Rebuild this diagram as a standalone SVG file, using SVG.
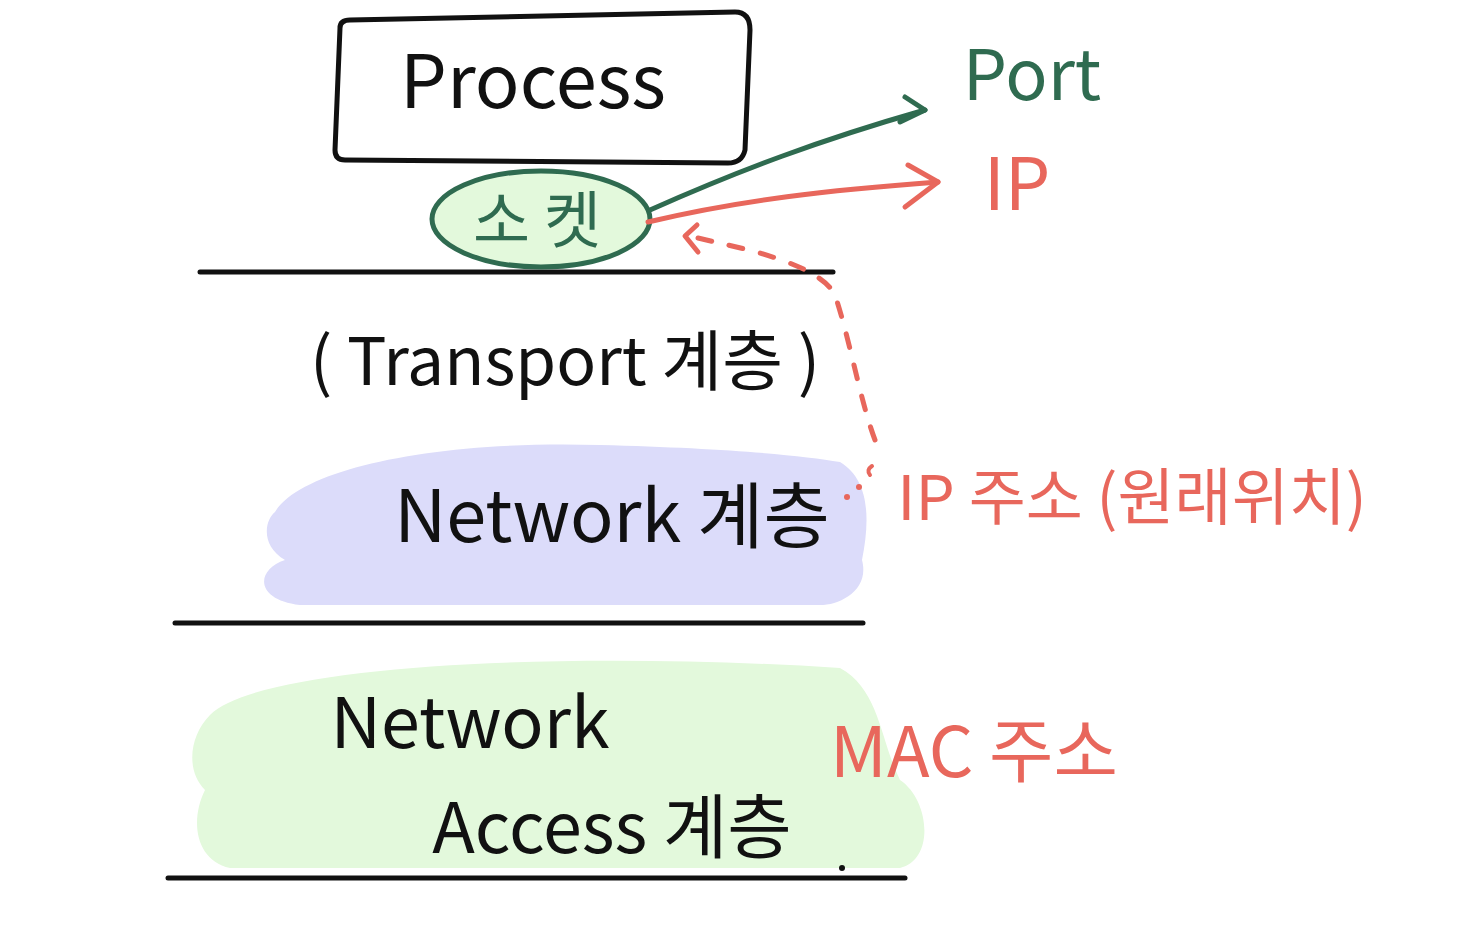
<svg xmlns="http://www.w3.org/2000/svg" width="1477" height="933" viewBox="0 0 1477 933">
<style>
.t{font-family:"Noto Sans CJK KR","Liberation Sans",sans-serif;}
.k{fill:#111;}
.g{fill:#2f6b50;}
.r{fill:#e8675c;}
.ln{stroke:#111;stroke-width:5;stroke-linecap:round;fill:none;}
.ah{fill:none;stroke-width:5;stroke-linecap:round;stroke-linejoin:round;}
</style>
<rect width="1477" height="933" fill="#fff"/>
<g id="layers">
<path d="M275,512 C300,470 430,440 600,445 C720,448 800,455 840,462 C870,480 870,520 862,560 C870,590 840,605 820,605 L300,605 C255,600 255,570 285,560 C260,545 265,520 275,512 Z" fill="#dcdcfa"/>
<path d="M210,715 C260,665 560,650 840,668 C880,690 880,740 900,780 C930,800 935,860 900,868 L230,868 C195,860 190,820 205,790 C185,770 190,735 210,715 Z" fill="#e3f9dc"/>
<line class="ln" x1="200" y1="272" x2="833" y2="272"/>
<line class="ln" x1="175" y1="623" x2="863" y2="623"/>
<line class="ln" x1="168" y1="878" x2="905" y2="878"/>
</g>
<g id="process">
<path d="M340,28 Q340,20 350,20 L735,12 Q750,12 750,30 L745,150 Q742,163 728,163 L345,160 Q335,160 335,150 Z" fill="none" stroke="#111" stroke-width="5" stroke-linejoin="round"/>
<text class="t k" x="533" y="108" font-size="74" text-anchor="middle">Process</text>
</g>
<g id="socket">
<ellipse cx="541" cy="219" rx="109" ry="48" fill="#e3f9dc" stroke="#2f6b50" stroke-width="5"/>
<text class="t g" x="537" y="243" font-size="62" text-anchor="middle">소  켓</text>
</g>
<g id="transport">
<text class="t k" x="565" y="385" font-size="66" text-anchor="middle">( Transport 계층 )</text>
</g>
<g id="network">
<text class="t k" x="612" y="542" font-size="72" text-anchor="middle">Network  계층</text>
</g>
<g id="netaccess">
<text class="t k" x="470" y="748" font-size="70" text-anchor="middle">Network</text>
<text class="t k" x="612" y="853" font-size="70" text-anchor="middle">Access 계층</text>
<circle cx="842" cy="868" r="3" fill="#111"/>
</g>
<g id="port"><text class="t g" x="1032" y="100" font-size="70" text-anchor="middle">Port</text></g>
<g id="ip"><text class="t r" x="1017" y="210" font-size="72" text-anchor="middle">IP</text></g>
<g id="ipaddr"><text class="t r" x="1132" y="520" font-size="62" text-anchor="middle">IP 주소 (원래위치)</text></g>
<g id="mac"><text class="t r" x="974" y="777" font-size="70" text-anchor="middle">MAC 주소</text></g>
<g id="connectors">
<path d="M650,210 C740,170 820,140 925,110" fill="none" stroke="#2f6b50" stroke-width="5" stroke-linecap="round"/>
<path class="ah" d="M905,97 L925,110 L900,122" stroke="#2f6b50"/>
<path d="M648,222 C740,200 830,190 938,182" fill="none" stroke="#e8675c" stroke-width="5" stroke-linecap="round"/>
<path class="ah" d="M908,165 L938,182 L905,207" stroke="#e8675c"/>
<path d="M875,440 C860,400 850,340 835,295 C825,275 790,262 760,253 C730,245 705,240 690,236" fill="none" stroke="#e8675c" stroke-width="5" stroke-linecap="round" stroke-dasharray="14,18"/>
<path class="ah" d="M697,225 L685,236 L698,252" stroke="#e8675c"/>
<circle cx="847" cy="497" r="3" fill="#e8675c"/>
<circle cx="859" cy="487" r="3" fill="#e8675c"/>
<path d="M872,466 Q866,470 870,475" fill="none" stroke="#e8675c" stroke-width="4" stroke-linecap="round"/>
</g>
</svg>
